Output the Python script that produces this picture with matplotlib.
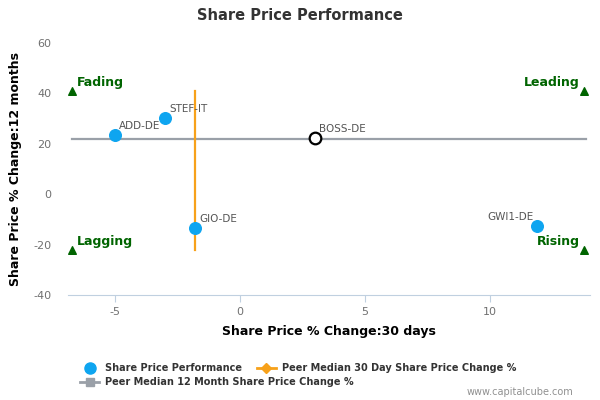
import matplotlib.pyplot as plt
from matplotlib.lines import Line2D

# data
tickers = ["ADD-DE", "STEF-IT", "GIO-DE", "GWI1-DE"]
chg_30d = [-5.0, -3.0, -1.8, 11.9]
chg_12m = [23.4, 30.2, -13.5, -12.7]

focus_name = "BOSS-DE"
focus_30d = 3.0
focus_12m = 22.2

median_30d = -1.8
median_12m = 21.8

quadrants = ["Fading", "Leading", "Lagging", "Rising"]
quad_x = [-6.72, 13.76, -6.72, 13.76]
quad_y = [40.8, 40.8, -22.3, -22.3]

x_min, x_max = -6.9, 14.0
y_min, y_max = -40, 60

blue = "#0ea5f0"
orange = "#f7a11a"
grey = "#9aa0a8"
green = "#006400"

plt.rcParams['font.family'] = ['DejaVu Sans']
plt.rcParams['axes.unicode_minus'] = False

fig = plt.figure(figsize=(6, 4), dpi=100)
ax = fig.add_axes([0.113, 0.2625, 0.87, 0.63])

# peer median lines
ax.plot([x_min + 0.15, x_max - 0.15], [median_12m, median_12m], color=grey, lw=1.6, zorder=2)
ax.plot([median_30d, median_30d], [quad_y[2], quad_y[0]], color=orange, lw=1.6, zorder=2)

# quadrant markers
ax.scatter(quad_x, quad_y, marker="^", color=green, s=30, zorder=3)
for name, qx, qy in zip(quadrants, quad_x, quad_y):
    left = qx < 0
    ax.annotate(name, (qx, qy), xytext=(3 if left else -3, 2), textcoords="offset points",
                ha="left" if left else "right", va="bottom", color=green,
                fontsize=9, fontweight="bold")

# peers
ax.scatter(chg_30d, chg_12m, s=70, color=blue, zorder=4)
for name, px, py in zip(tickers, chg_30d, chg_12m):
    right_side = px > 10
    ax.annotate(name, (px, py), xytext=(-3 if right_side else 3, 3), textcoords="offset points",
                ha="right" if right_side else "left", va="bottom", color="#555555", fontsize=7.5)

# focus company
ax.scatter([focus_30d], [focus_12m], s=70, facecolor="white", edgecolor="black", lw=1.6, zorder=5)
ax.annotate(focus_name, (focus_30d, focus_12m), xytext=(3, 3), textcoords="offset points",
            ha="left", va="bottom", color="#555555", fontsize=7.5)

ax.set_xlim(x_min, x_max)
ax.set_ylim(y_min, y_max)
ax.set_xticks([-5, 0, 5, 10])
ax.set_yticks([-40, -20, 0, 20, 40, 60])
for s in ["top", "right", "left"]:
    ax.spines[s].set_visible(False)
ax.spines["bottom"].set_color("#c0d0e0")
ax.tick_params(axis="x", colors="#c0d0e0", labelcolor="#707070", labelsize=8, length=5)
ax.tick_params(axis="y", length=0, labelcolor="#707070", labelsize=8, pad=12)

ax.set_xlabel("Share Price % Change:30 days", fontsize=9, fontweight="bold", labelpad=6)
ax.set_ylabel("Share Price % Change:12 months", fontsize=9, fontweight="bold", labelpad=8)
fig.text(0.5, 0.96, "Share Price Performance", ha="center", va="center",
         fontsize=10.5, fontweight="bold", color="#333333")

h_perf = Line2D([], [], marker="o", color=blue, ls="none", markersize=8)
h_30 = Line2D([], [], marker="D", color=orange, lw=2, markersize=5)
h_12 = Line2D([], [], marker="s", color=grey, lw=2, markersize=6)

leg1 = fig.legend([h_perf, h_30], ["Share Price Performance", "Peer Median 30 Day Share Price Change %"],
                  loc="center left", bbox_to_anchor=(0.125, 0.08), ncol=2, frameon=False,
                  prop={"size": 7, "weight": "bold"}, handlelength=2.0, columnspacing=1.5,
                  borderpad=0, handletextpad=0.6)
for t in leg1.get_texts():
    t.set_color("#333333")
leg2 = fig.legend([h_12], ["Peer Median 12 Month Share Price Change %"],
                  loc="center left", bbox_to_anchor=(0.125, 0.045), frameon=False,
                  prop={"size": 7, "weight": "bold"}, handlelength=2.0,
                  borderpad=0, handletextpad=0.6)
for t in leg2.get_texts():
    t.set_color("#333333")

fig.text(0.955, 0.02, "www.capitalcube.com", ha="right", va="center", fontsize=7, color="#909090")

fig.savefig("out.png", dpi=100)
